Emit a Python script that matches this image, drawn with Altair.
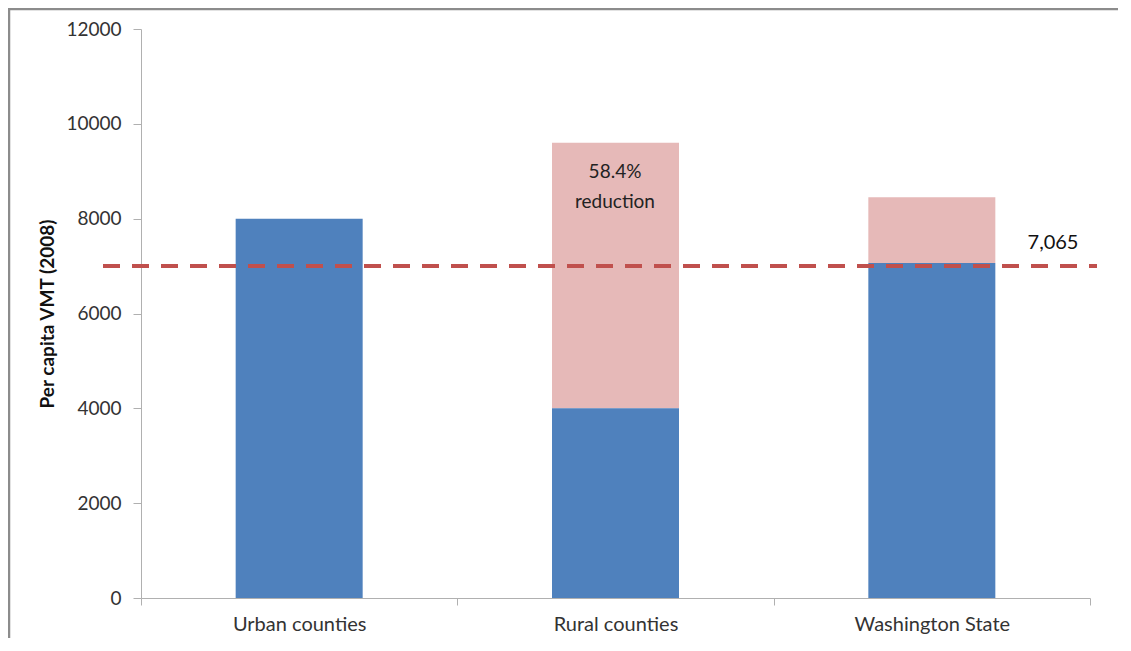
import altair as alt
import pandas as pd

categories = ["Urban counties", "Rural counties", "Washington State"]
current_vmt = [8000, 4000, 7065]
total_vmt = [8000, 9600, 8450]
target_vmt = [7000]
target_label = ["7,065"]
note_lines = ["58.4%", "reduction"]
y_ticks = [0, 2000, 4000, 6000, 8000, 10000, 12000]

df = pd.DataFrame({"cat": categories, "cur": current_vmt, "tot": total_vmt})
tdf = pd.DataFrame({"t": target_vmt, "lab": target_label})

W, H = 949, 569
PAD = {"left": 133, "top": 21, "right": 28, "bottom": 40}
FONT = "Lato"

xenc = alt.X("cat:N", sort=categories, title=None,
             scale=alt.Scale(paddingInner=0, paddingOuter=0),
             axis=alt.Axis(labelAngle=0, labelAlign="center", tickBand="extent",
                           domainColor="#b0b0b0", tickColor="#b0b0b0", tickSize=7,
                           labelPadding=19, labelFontSize=20, labelColor="#333333",
                           labelFont=FONT, labelFontWeight="normal"))
yscale = alt.Scale(domain=[0, 12000])

base = alt.Chart(df)

blue = base.mark_bar(color="#4f81bd", size=127).encode(
    x=xenc,
    y=alt.Y("cur:Q", scale=yscale, title="Per capita VMT (2008)",
            axis=alt.Axis(values=y_ticks, format="d", grid=False, domainColor="#b0b0b0",
                          tickColor="#b0b0b0", tickSize=8, labelPadding=12,
                          labelFontSize=19, labelColor="#333333", labelFont=FONT,
                          titleFont=FONT, titleFontSize=19, titleFontWeight="bold",
                          titleColor="#111111", titleX=-84, titleY=H / 2,
                          titleAlign="center", titleBaseline="bottom")),
    y2=alt.Y2("zero:Q"),
).transform_calculate(zero="0")

pink = base.mark_bar(color="#e6b9b8", size=127).encode(
    x=alt.X("cat:N", sort=categories),
    y=alt.Y("cur:Q", scale=yscale),
    y2="tot:Q",
)

frame_top = alt.Chart(tdf).mark_rule(stroke="#8c8c8c", strokeWidth=2.5).encode(
    x=alt.value(-133), x2=alt.value(1000), y=alt.value(-20)
)
frame_left = alt.Chart(tdf).mark_rule(stroke="#8c8c8c", strokeWidth=2.5).encode(
    x=alt.value(-132), y=alt.value(-21), y2=alt.value(700)
)

rule = alt.Chart(tdf).mark_rule(color="#c0504d", strokeWidth=4, strokeDash=[17, 12]).encode(
    y=alt.Y("t:Q", scale=yscale), x=alt.value(-38), x2=alt.value(956)
)

tlabel = alt.Chart(tdf).mark_text(fontSize=20, font=FONT, color="#111111").encode(
    text="lab:N", x=alt.value(912), y=alt.value(214)
)

note = alt.Chart(tdf).mark_text(fontSize=19, font=FONT, color="#222222", lineHeight=30,
                                baseline="middle").encode(
    text=alt.value(note_lines), x=alt.value(474), y=alt.value(143)
)

chart = alt.layer(frame_top, frame_left, pink, blue, rule, tlabel, note).properties(
    width=W, height=H,
    autosize=alt.AutoSizeParams(type="none"),
    padding=PAD,
).configure(background="white").configure_view(stroke=None)

chart.save("out.html", embed_options={"renderer": "svg", "actions": False})
